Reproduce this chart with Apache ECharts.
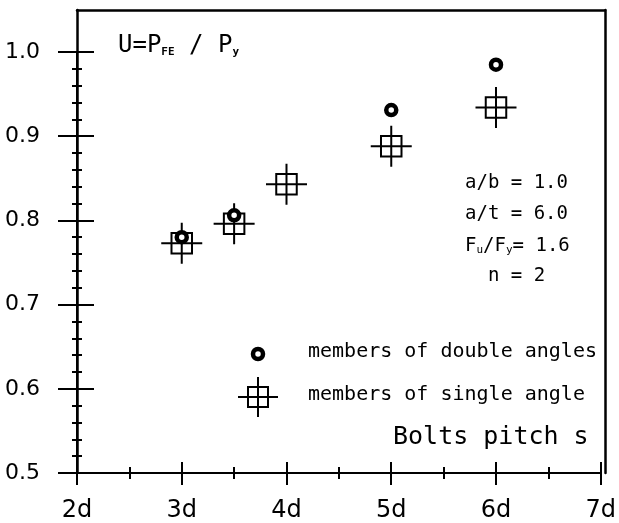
<!DOCTYPE html>
<html><head><meta charset="utf-8">
<script src="https://cdn.jsdelivr.net/npm/echarts@6/dist/echarts.min.js"></script>
<style>html,body{margin:0;padding:0;background:#fff}#c{width:619px;height:523px}</style>
</head><body><div id="c"></div>
<script>
// ---- data ----
const pitchSingle = [3, 3.5, 4, 5, 6];
const uSingle = [0.773, 0.796, 0.843, 0.888, 0.934];
const pitchDouble = [3, 3.5, 5, 6];
const uDouble = [0.780, 0.806, 0.931, 0.985];
const xTickValues = [2, 3, 4, 5, 6, 7];
const xTickLabels = ['2d', '3d', '4d', '5d', '6d', '7d'];
const yTickLabels = ['0.5', '0.6', '0.7', '0.8', '0.9', '1.0'];

const MONO = '"DejaVu Sans Mono"';
const SANS = '"DejaVu Sans"';
const crossSquare = 'path://M0,20L40,20M20,0L20,40M10,10L30,10L30,30L10,30Z';

const chart = echarts.init(document.getElementById('c'), null, {renderer: 'canvas'});

function xAxisCfg(inside, labels) {
  return {
    type: 'value', gridIndex: 0, position: 'bottom', min: 2, max: 7, interval: 1,
    axisLine: {show: true, onZero: false, lineStyle: {color: '#000', width: 2}},
    axisTick: {show: true, inside: inside, length: inside ? 11 : 12, lineStyle: {color: '#000', width: 2}},
    minorTick: {show: true, splitNumber: 2, length: 6, lineStyle: {color: '#000', width: 2}},
    splitLine: {show: false},
    axisLabel: labels ? {
      show: true, margin: 26, color: '#000', fontFamily: SANS, fontSize: 24,
      formatter: v => { const i = xTickValues.indexOf(v); return i >= 0 ? xTickLabels[i] : ''; }
    } : {show: false}
  };
}
function yAxisCfg(inside, labels) {
  return {
    type: 'value', gridIndex: 0, position: 'left', min: 0.5, max: 1.0, interval: 0.1,
    axisLine: {show: true, onZero: false, lineStyle: {color: '#000', width: 2}},
    axisTick: {show: true, inside: inside, length: inside ? 17 : 19, lineStyle: {color: '#000', width: 2}},
    minorTick: {show: true, splitNumber: 5, length: 5, lineStyle: {color: '#000', width: 2}},
    splitLine: {show: false},
    axisLabel: labels ? {
      show: true, margin: 37, color: '#000', fontFamily: SANS, fontSize: 22, padding: [0, 0, 18, 0],
      formatter: v => { const i = Math.round((v - 0.5) * 10); return yTickLabels[i] || ''; }
    } : {show: false}
  };
}
const frameAxis = (pos) => ({
  type: 'value', gridIndex: 1, position: pos, min: 0, max: 1,
  axisLine: {show: true, onZero: false, lineStyle: {color: '#000', width: 2.5}},
  axisTick: {show: false}, axisLabel: {show: false}, splitLine: {show: false}
});

const txt = (text, x, y, size, extra) => ({
  type: 'text', silent: true,
  style: Object.assign({text: text, x: x, y: y, fill: '#000', fontFamily: MONO, fontSize: size,
    verticalAlign: 'middle', align: 'left'}, extra || {})
});

chart.setOption({
  animation: false,
  backgroundColor: '#fff',
  grid: [
    {left: 77, right: 14, top: 52, bottom: 50, show: false},
    {left: 77, right: 14, top: 10, bottom: 50, show: false}
  ],
  xAxis: [xAxisCfg(false, true), xAxisCfg(true, false), frameAxis('top')],
  yAxis: [yAxisCfg(false, true), yAxisCfg(true, false), frameAxis('right'), frameAxis('left')],
  series: [
    {
      name: 'members of single angle', type: 'scatter', xAxisIndex: 0, yAxisIndex: 0,
      symbol: crossSquare, symbolSize: 41, silent: true, z: 3,
      itemStyle: {color: 'rgba(0,0,0,0)', borderColor: '#000', borderWidth: 2, opacity: 1},
      data: pitchSingle.map((p, i) => [p, uSingle[i]])
    },
    {
      name: 'members of double angles', type: 'scatter', xAxisIndex: 0, yAxisIndex: 0,
      symbol: 'circle', symbolSize: 10, silent: true, z: 4,
      itemStyle: {color: '#fff', borderColor: '#000', borderWidth: 4.5, opacity: 1},
      data: pitchDouble.map((p, i) => [p, uDouble[i]])
    }
  ],
  graphic: [
    txt('U=P{s|FE} / P{s|y}', 118, 46, 24, {rich: {s: {fontFamily: MONO, fontSize: 11, fontWeight: 'bold', verticalAlign: 'bottom', fill: '#000'}}}),
    txt('a/b = 1.0', 465, 183, 19),
    txt('a/t = 6.0', 465, 214, 19),
    txt('F{s|u}/F{s|y}= 1.6', 465, 246, 19, {rich: {s: {fontFamily: MONO, fontSize: 11, verticalAlign: 'bottom', fill: '#000'}}}),
    txt('  n = 2', 465, 276, 19),
    txt('members of double angles', 308, 352, 20),
    txt('members of single angle', 308, 395, 20),
    txt('Bolts pitch s', 393, 437, 25),
    {type: 'circle', silent: true, shape: {cx: 258, cy: 354, r: 5}, style: {fill: '#fff', stroke: '#000', lineWidth: 4.5}},
    {type: 'group', silent: true, children: [
      {type: 'line', shape: {x1: 238, y1: 397, x2: 278, y2: 397}, style: {stroke: '#000', lineWidth: 2}},
      {type: 'line', shape: {x1: 258, y1: 377, x2: 258, y2: 417}, style: {stroke: '#000', lineWidth: 2}},
      {type: 'rect', shape: {x: 248, y: 387, width: 20, height: 20}, style: {fill: 'none', stroke: '#000', lineWidth: 2}}
    ]}
  ]
});
</script></body></html>
